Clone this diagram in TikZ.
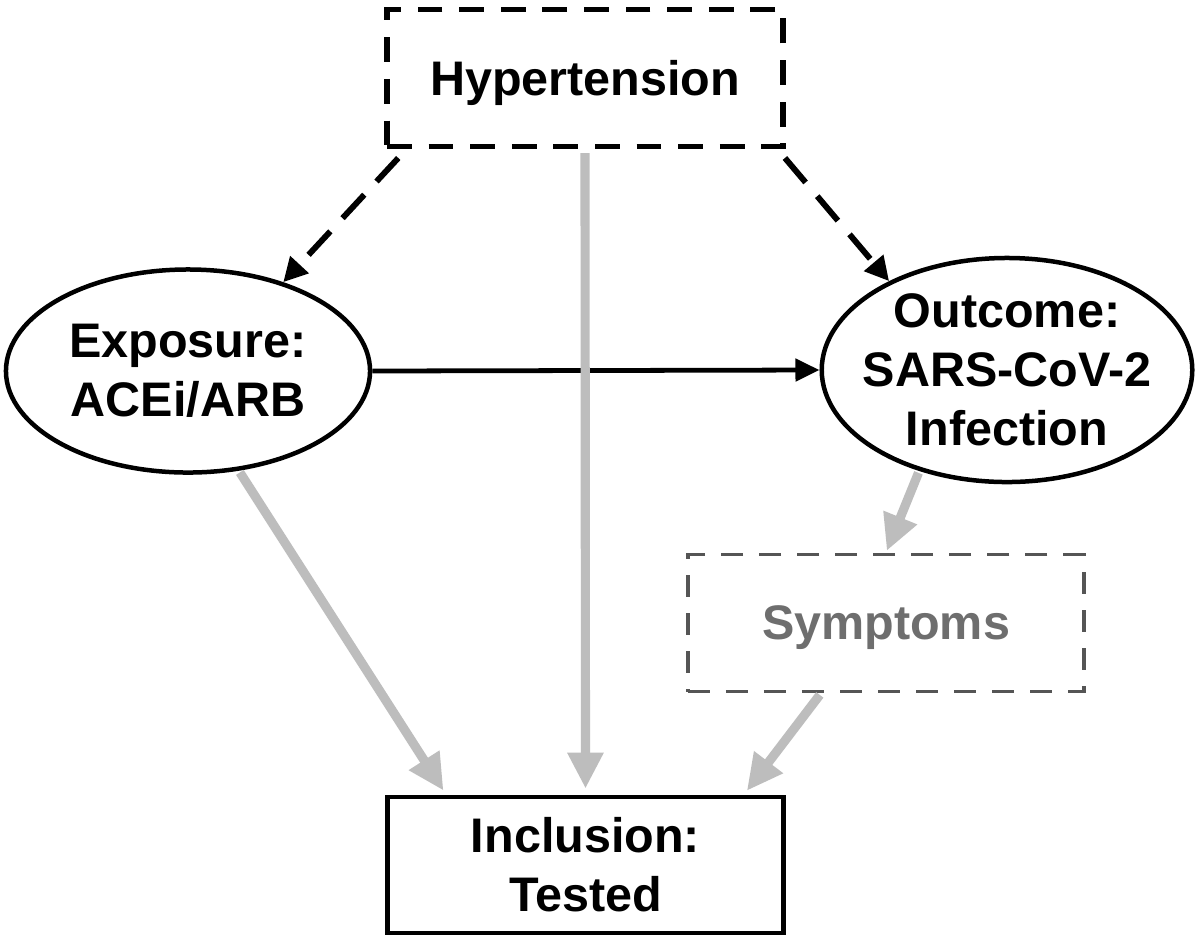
\documentclass[tikz,border=0pt]{standalone}
\usepackage{fontspec}
\setmainfont{Liberation Sans}
\usetikzlibrary{shapes.geometric,arrows.meta}
\definecolor{arrgray}{HTML}{BDBDBD}
\definecolor{symgray}{HTML}{6E6E6E}
\definecolor{symline}{HTML}{555555}
\begin{document}
\begin{tikzpicture}[x=0.025cm,y=-0.025cm,
  lbl/.style={font=\fontsize{34.5}{42}\selectfont\bfseries, align=center, inner sep=0pt},
  confbox/.style={lbl, text depth=0pt, draw=black, line width=3.8pt, dash pattern=on 0.62cm off 0.42cm, minimum width=9.9cm, minimum height=3.425cm},
  varell/.style={lbl, ellipse, draw=black, line width=3.2pt},
  selbox/.style={lbl, draw=black, line width=3.4pt, minimum width=9.9cm, minimum height=3.4cm},
  medbox/.style={lbl, text depth=0pt, draw=symline, text=symgray, line width=2.4pt, dash pattern=on 0.55cm off 0.4cm, minimum width=9.9cm, minimum height=3.43cm},
  dasharrow/.style={draw=black, line width=4.2pt, dash pattern=on 0.8cm off 0.45cm, -{Triangle[length=0.6cm,width=0.6cm]}},
  solidarrow/.style={draw=black, line width=3.4pt, -{Triangle[length=0.6cm,width=0.55cm]}},
  grayarrow/.style={draw=arrgray, line width=6.5pt, -{Triangle[length=0.9cm,width=0.85cm]}}
]
\fill[white] (0,0) rectangle (1200,943);
\useasboundingbox (0,0) rectangle (1200,943);

\node[confbox] (hyp) at (585,78) {Hypertension};
\node[varell, minimum width=9.1cm, minimum height=5.075cm] (exp) at (188,371) {Exposure:\\ACEi/ARB};
\node[varell, inner xsep=-0.33cm, minimum width=9.25cm, minimum height=5.6cm] (out) at (1007,370) {Outcome:\\SARS-CoV-2\\Infection};
\node[medbox] (sym) at (886,623) {Symptoms};
\node[selbox] (inc) at (585.5,865) {Inclusion:\\Tested};

\draw[dasharrow] ([shift={(0.35cm,-0.22cm)}]hyp.south west) -- (exp.43);
\draw[dasharrow] ([shift={(-0.02cm,-0.22cm)}]hyp.south east) -- (out.143);
\draw[solidarrow] (exp.east) -- (out.west);
\draw[grayarrow, shorten <=0.1cm, shorten >=0.15cm] (hyp.south) -- (inc.north);
\draw[grayarrow, shorten <=0.05cm, shorten >=0.12cm] (exp.-63) -- ([xshift=1.525cm]inc.north west);
\draw[grayarrow, shorten <=0.05cm, shorten >=0.05cm] (out.-131) -- (sym.north);
\draw[grayarrow, shorten <=0.05cm, shorten >=0.12cm] ([xshift=-1.625cm]sym.south) -- ([xshift=-1.05cm]inc.north east);
\end{tikzpicture}
\end{document}
